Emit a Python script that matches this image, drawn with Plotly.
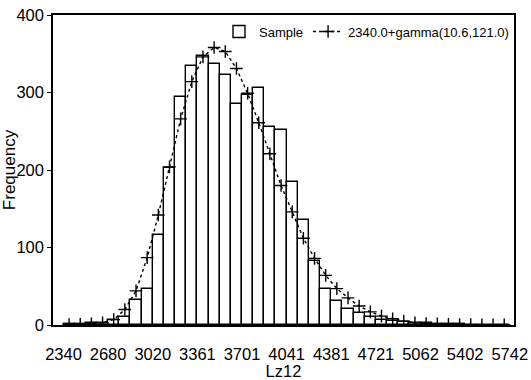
import plotly.graph_objects as go

# Histogram of Lz12: 40 equal-width bins between the sample min and max
bin_lo = 2340.0
bin_hi = 5742.0
n_bins = 40

sample_counts = [
    1, 1, 2, 3, 7, 10, 32, 46, 116, 202,
    294, 334, 347, 337, 322, 285, 297, 306, 255, 251,
    185, 136, 82, 47, 31, 21, 15, 10, 7, 5,
    4, 3, 2, 1, 1, 1, 0, 0, 0, 0,
]

# Expected counts of the fitted shifted gamma, one per bin
fit_counts = [
    0.5, 1, 1.5, 3, 7, 20, 44, 87, 142, 204,
    266, 314, 346, 358, 353, 331, 299, 261, 221, 180,
    146, 112, 86, 64, 47, 35, 24.5, 17, 11.5, 8,
    5, 3, 2, 1.5, 1, 0.7, 0.5, 0.3, 0.2, 0.1,
]

tick_labels = ["2340", "2680", "3020", "3361", "3701", "4041",
               "4381", "4721", "5062", "5402", "5742"]

sample_name = "Sample"
fit_name = "2340.0+gamma(10.6,121.0)"
x_title = "Lz12"
y_title = "Frequency"

bin_w = (bin_hi - bin_lo) / n_bins
centers = [bin_lo + (i + 0.5) * bin_w for i in range(n_bins)]
tick_step = (bin_hi - bin_lo) / (len(tick_labels) - 1)
tick_vals = [bin_lo + i * tick_step for i in range(len(tick_labels))]

FONT = "Liberation Sans, Arial, sans-serif"

fig = go.Figure()
fig.add_trace(go.Bar(
    x=centers, y=sample_counts, width=bin_w, name=sample_name,
    marker=dict(color="white", line=dict(color="black", width=1.4)),
))
fig.add_trace(go.Scatter(
    x=centers, y=fit_counts, name=fit_name, mode="lines+markers",
    line=dict(color="black", width=1.4, dash="dot"),
    marker=dict(symbol="cross-thin", size=9, line=dict(color="black", width=1.4)),
))

fig.update_layout(
    width=531, height=380,
    margin=dict(l=53, r=17, t=15, b=55, autoexpand=False),
    paper_bgcolor="white", plot_bgcolor="white",
    font=dict(family=FONT, color="black"),
    bargap=0, showlegend=True,
    legend=dict(
        orientation="h", x=1.0, xanchor="right", y=0.995, yanchor="top",
        font=dict(size=13), bgcolor="rgba(0,0,0,0)",
        itemwidth=30, tracegroupgap=0,
    ),
)
fig.update_xaxes(
    range=[bin_lo - 80, bin_hi + 32],
    tickmode="array", tickvals=tick_vals, ticktext=tick_labels,
    tickfont=dict(size=16.5), ticks="", ticklabelstandoff=13,
    showgrid=False, zeroline=False, automargin=True,
    showline=True, linecolor="black", linewidth=1.5, mirror=True,
    title=dict(text=x_title, font=dict(size=16.5), standoff=3),
)
fig.update_yaxes(
    range=[0, 400], dtick=100, automargin=True,
    tickfont=dict(size=16.5), ticks="outside", ticklen=4, tickcolor="black",
    tickwidth=1.2,
    showgrid=False, zeroline=False,
    showline=True, linecolor="black", linewidth=1.5, mirror=True,
    title=dict(text=y_title, font=dict(size=17), standoff=4),
)

fig.write_html("out.html")
